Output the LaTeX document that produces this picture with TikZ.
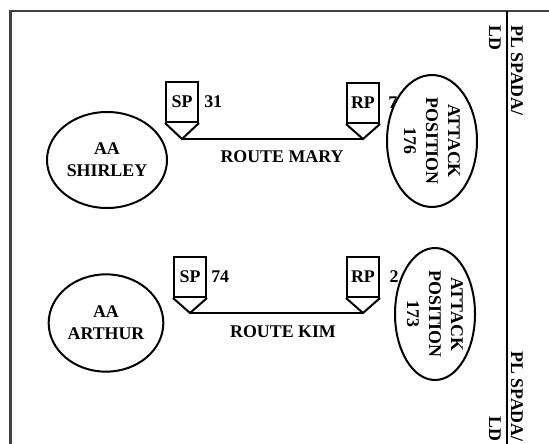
\documentclass[tikz,border=0pt]{standalone}
\usepackage{fontspec}
\setmainfont{Liberation Serif}
\usetikzlibrary{shapes.geometric, positioning}

\tikzset{
  txt/.style={font=\bfseries\fontsize{13.4}{16.5}\selectfont, inner sep=0pt},
  area/.style={txt, draw, ellipse, line width=1.5pt, align=center},
  ctrlpt/.style={txt, draw, rectangle, line width=1.5pt, minimum width=24pt, minimum height=30pt},
  route/.style={line width=2.2pt},
}

\begin{document}
\begin{tikzpicture}[x=0.75pt,y=-0.75pt]
        \useasboundingbox (0,0) rectangle (549,443);
        % frame and phase line
        \draw[line width=2pt, black!75] (600,11) -- (10.5,11) -- (10.5,500);
        \draw[line width=1.5pt] (507,11) -- (507,450);
        \node[txt, rotate=-90, anchor=west, align=left] (pltop) at (506,25) {PL SPADA/\\LD};
        \node[txt, rotate=-90, anchor=east, align=right] (plbot) at (506,442) {PL SPADA/\\LD};
        % assembly areas and attack positions
        \begin{scope}[every node/.style={area}]
          \node[minimum width=90pt, minimum height=72pt] (shirley) at (107,160) {AA\\SHIRLEY};
          \node[minimum width=86pt, minimum height=73pt] (arthur) at (106,323) {AA\\ARTHUR};
          \node[rotate=-90, minimum width=99pt, minimum height=67.5pt] (ap176) at (432,141) {ATTACK\\POSITION\\176};
          \node[rotate=-90, minimum width=99pt, minimum height=60pt] (ap173) at (435,314) {ATTACK\\POSITION\\173};
        \end{scope}
        % start and release points
        \begin{scope}[every node/.style={ctrlpt}]
          \node (sp1) at (182,102) {SP};
          \node (rp1) at (363,103) {RP};
          \node (sp2) at (190,277) {SP};
          \node (rp2) at (363,277) {RP};
        \end{scope}
        \coordinate (sp1tip) at (182,139);
        \coordinate (rp1tip) at (363,139);
        \coordinate (sp2tip) at (190,313);
        \coordinate (rp2tip) at (363,313);
        \begin{scope}[line width=1.5pt]
          \draw (sp1.south west) -- (sp1tip) -- (sp1.south east);
          \draw (rp1.south west) -- (rp1tip) -- (rp1.south east);
          \draw (sp2.south west) -- (sp2tip) -- (sp2.south east);
          \draw (rp2.south west) -- (rp2tip) -- (rp2.south east);
        \end{scope}
        \node[txt, right=3.75pt of sp1] (sp1num) {31};
        \node[txt, right=6pt of rp1] (rp1num) {7};
        \node[txt, right=3pt of sp2] (sp2num) {74};
        \node[txt, right=7pt of rp2] (rp2num) {2};
        % routes
        \draw[route] (sp1tip) -- (rp1tip);
        \draw[route] (sp2tip) -- (rp2tip);
        \node[txt] (mary) at (282,157) {ROUTE MARY};
        \node[txt] (kim) at (283,332) {ROUTE KIM};
      \end{tikzpicture}
\end{document}
